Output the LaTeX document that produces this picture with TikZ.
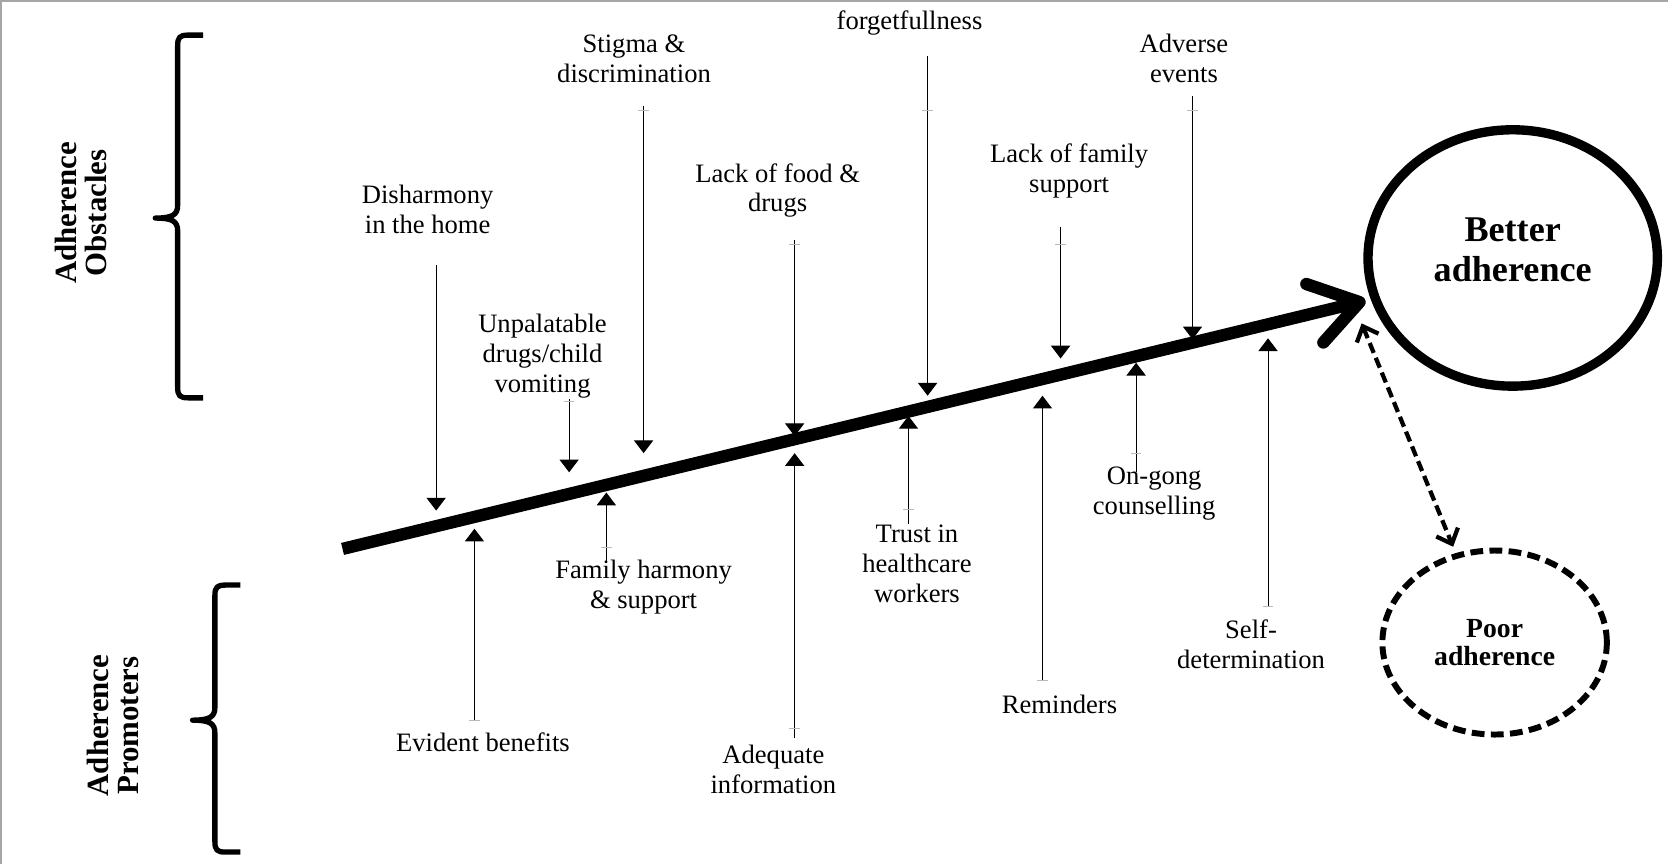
\documentclass[tikz,border=0pt]{standalone}
\usepackage{fontspec}
\setmainfont{Liberation Serif}
\usetikzlibrary{arrows.meta,shapes.geometric}
\begin{document}
\begin{tikzpicture}[x=0.5pt,y=-0.5pt,
  lbl/.style={font=\fontsize{12.5}{14}\selectfont, align=center, inner sep=0pt},
  side/.style={font=\bfseries\fontsize{14.5}{14}\selectfont, align=center, rotate=90, inner sep=0pt},
  arr/.style={line width=0.5pt, -{Triangle[width=9pt,length=6pt]}},
  tk/.style={line width=0.4pt, gray!55},
  spine/.style={line width=5.8pt},
  chev/.style={line width=5.8pt, line cap=round, line join=round},
  brc/.style={line width=2.5pt, line join=round},
  dbl/.style={line width=2pt, dash pattern=on 5pt off 2.5pt,
    {Straight Barb[length=6pt,width=11pt]}-{Straight Barb[length=6pt,width=11pt]}},
]
\useasboundingbox (0,0) rectangle (1568,812);
\draw[gray!70, line width=0.6pt] (1,812) -- (1,1) -- (1568,1);

% braces
\draw[brc] (191,33) -- (177,33) .. controls (169,33) and (167,35) .. (167,43) -- (167,193)
  .. controls (167,202) and (162,205) .. (146,205)
  .. controls (162,205) and (167,208) .. (167,217) -- (167,364)
  .. controls (167,372) and (169,374) .. (177,374) -- (191,374);
\draw[brc] (226,550) -- (212,550) .. controls (204,550) and (202,552) .. (202,560) -- (202,665)
  .. controls (202,674) and (197,677) .. (181,677)
  .. controls (197,677) and (202,680) .. (202,689) -- (202,791)
  .. controls (202,799) and (204,801) .. (212,801) -- (226,801);

% side labels
\node[side] (obst) at (76,200) {Adherence\\Obstacles};
\node[side] (prom) at (106,682) {Adherence\\Promoters};

% labels
\node[lbl] (stig) at (596,55) {Stigma \&\\discrimination};
\node[lbl] (forg) at (855,22) {forgetfullness};
\node[lbl] (adv) at (1113,55) {Adverse\\events};
\node[lbl] (dish) at (402,197) {Disharmony\\in the home};
\node[lbl] (food) at (731,179) {Lack of food \&\\drugs};
\node[lbl] (lfam) at (1005,161) {Lack of family\\support};
\node[lbl] (unpal) at (510,335) {Unpalatable\\drugs/child\\vomiting};
\node[lbl] (famh) at (605,552) {Family harmony\\\& support};
\node[lbl] (trust) at (862,530) {Trust in\\healthcare\\workers};
\node[lbl] (ongo) at (1085,464) {On-gong\\counselling};
\node[lbl] (evid) at (454,698) {Evident benefits};
\node[lbl] (adeq) at (727,723.5) {Adequate\\information};
\node[lbl] (remi) at (996,662) {Reminders};
\node[lbl] (self) at (1176,606) {Self-\\determination};

% outcome circles
\node[draw, ellipse, line width=4.4pt, minimum width=136pt, minimum height=120.5pt, inner sep=0pt] (better) at (1422,242.5) {};
\node[font=\bfseries\fontsize{17}{19}\selectfont, align=center, inner sep=0pt] (bettertxt) at (1422,235) {Better\\adherence};
\node[draw, ellipse, line width=2.8pt, dash pattern=on 6pt off 3pt, minimum width=105.5pt, minimum height=86.5pt, inner sep=0pt,
  font=\bfseries\fontsize{13}{13.5}\selectfont, align=center] (poor) at (1405,604) {Poor\\adherence};

% spine
\coordinate (s0) at (322,516);
\coordinate (tip) at (1278,284);
\coordinate (c1) at (1228,267);
\coordinate (c2) at (1244,322);
\draw[spine] (s0) -- (tip);
\draw[chev] (c1) -- (tip) -- (c2);

% dashed double arrow
\coordinate (dtop) at (1280,304);
\coordinate (dbot) at (1366,514);
\draw[dbl] (dtop) -- (dbot);

% factor arrows
\foreach \n/\x/\a/\b in {dish/410/249/480, unpal/535/375/444, stig/605/100/426,
  food/747/226/410, forg/872/53/372, lfam/997/213/337, adv/1121/90/319,
  evid/446/677/497, famh/570/529/463, adeq/747/694/426, trust/854/493/391,
  remi/980/640/372, ongo/1068/444/341, self/1192/570/318}{
  \coordinate (\n-s) at (\x,\a);
  \coordinate (\n-e) at (\x,\b);
  \draw[arr] (\n-s) -- (\n-e);
}
% small ticks
\foreach \x/\y in {535/377, 605/104, 747/230, 872/104, 997/230, 1121/104,
  446/677, 570/515, 747/685, 854/479, 980/640, 1068/426, 1192/570}{
  \draw[tk] ({\x-5},\y) -- ({\x+5},\y);
}
\end{tikzpicture}
\end{document}
